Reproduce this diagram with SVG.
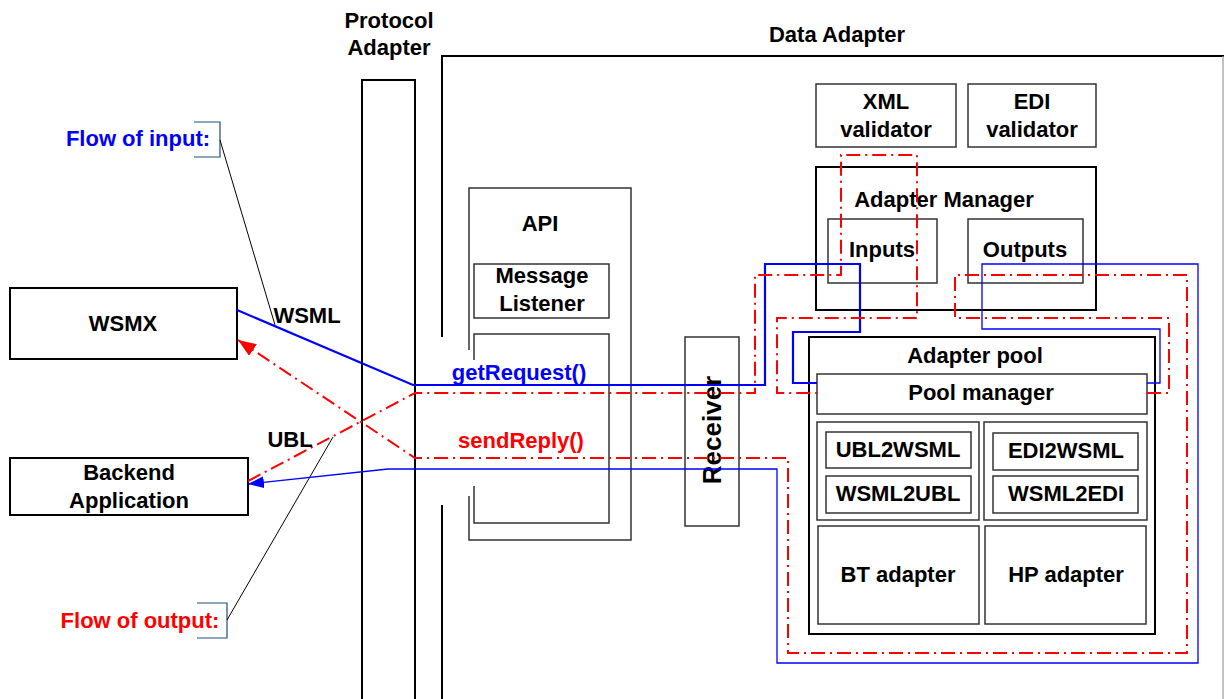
<svg xmlns="http://www.w3.org/2000/svg" width="1224" height="699" viewBox="0 0 1224 699">
<style>
text{font-family:"Liberation Sans",Arial,sans-serif;font-weight:bold;font-size:22px;fill:#000;text-anchor:middle}
.box{fill:none;stroke:#000;stroke-width:2}
.ibox{fill:none;stroke:#333;stroke-width:1.5}
.ln{fill:none;stroke:#000;stroke-width:2}
.thin{fill:none;stroke:#333;stroke-width:1.5}
.lead{fill:none;stroke:#000;stroke-width:1}
.brk{fill:none;stroke:#1F4E79;stroke-width:1.2}
.bin{fill:none;stroke:#0000FF;stroke-width:2.2}
.bout{fill:none;stroke:#0000FF;stroke-width:1.3}
.red{fill:none;stroke:#FF0000;stroke-width:2;stroke-dasharray:14 5 2 5}
</style>
<defs>
<marker id="ahRed" viewBox="0 0 18 14" refX="18" refY="7" markerWidth="18" markerHeight="14" markerUnits="userSpaceOnUse" orient="auto"><path d="M0,0 L18,7 L0,14 z" fill="#FF0000"/></marker>
<marker id="ahBlue" viewBox="0 0 16 12" refX="16" refY="6" markerWidth="16" markerHeight="12" markerUnits="userSpaceOnUse" orient="auto"><path d="M0,0 L16,6 L0,12 z" fill="#0000FF"/></marker>
</defs>
<rect width="1224" height="699" fill="#fff"/>

<g id="protocol-adapter">
<text x="389" y="28">Protocol</text>
<text x="389" y="55">Adapter</text>
<rect class="box" x="362" y="80" width="53" height="640"/>
</g>

<g id="data-adapter">
<text x="837" y="42">Data Adapter</text>
<path class="ln" d="M442,337 V56 H1226" stroke-width="2.5"/>
<path class="ln" d="M442,505 V700"/>
<path d="M1223,56 V699" stroke="#999" stroke-width="1.2" fill="none"/>
</g>

<g id="wsmx">
<rect class="box" x="10" y="288" width="227" height="71"/>
<text x="123" y="331">WSMX</text>
</g>

<g id="backend">
<rect class="box" x="10" y="458" width="238" height="57"/>
<text x="129" y="480">Backend</text>
<text x="129" y="508">Application</text>
</g>

<g id="api">
<path class="thin" d="M469,350 V188 H631 V540 H469 V496"/>
<text x="540" y="231">API</text>
</g>

<g id="message-listener">
<rect class="ibox" x="474" y="264" width="135" height="54"/>
<text x="542" y="283">Message</text>
<text x="542" y="311">Listener</text>
</g>

<g id="api-inner">
<path class="thin" d="M474,360 V334 H609 V523 H474 V486"/>
</g>

<g id="receiver">
<rect class="thin" x="685" y="337" width="54" height="189"/>
<text transform="translate(721,430) rotate(-90)" font-size="26" style="font-size:26px">Receiver</text>
</g>

<g id="xml-validator">
<rect class="ibox" x="816" y="84" width="140" height="63"/>
<text x="886" y="109">XML</text>
<text x="886" y="137">validator</text>
</g>

<g id="edi-validator">
<rect class="ibox" x="968" y="84" width="128" height="63"/>
<text x="1032" y="109">EDI</text>
<text x="1032" y="137">validator</text>
</g>

<g id="adapter-manager">
<rect class="box" x="816" y="167" width="280" height="143"/>
<text x="944" y="207">Adapter Manager</text>
</g>

<g id="inputs">
<rect class="ibox" x="828" y="219" width="109" height="64"/>
<text x="882" y="257">Inputs</text>
</g>

<g id="outputs">
<rect class="ibox" x="968" y="219" width="115" height="64"/>
<text x="1025" y="257">Outputs</text>
</g>

<g id="adapter-pool">
<rect class="box" x="809" y="337" width="346" height="297"/>
<text x="975" y="363">Adapter pool</text>
</g>

<g id="pool-manager">
<rect class="ibox" x="817" y="374" width="330" height="40"/>
<text x="981" y="400">Pool manager</text>
</g>

<g id="ubl-group">
<rect class="ibox" x="817" y="422" width="162" height="98"/>
</g>
<g id="ubl2wsml">
<rect class="ibox" x="826" y="432" width="145" height="36"/>
<text x="898" y="457">UBL2WSML</text>
</g>
<g id="wsml2ubl">
<rect class="ibox" x="826" y="476" width="145" height="37"/>
<text x="898" y="501">WSML2UBL</text>
</g>

<g id="edi-group">
<rect class="ibox" x="984" y="422" width="163" height="98"/>
</g>
<g id="edi2wsml">
<rect class="ibox" x="993" y="433" width="145" height="37"/>
<text x="1066" y="458">EDI2WSML</text>
</g>
<g id="wsml2edi">
<rect class="ibox" x="993" y="476" width="145" height="37"/>
<text x="1066" y="501">WSML2EDI</text>
</g>

<g id="bt-adapter">
<rect class="ibox" x="818" y="526" width="161" height="98"/>
<text x="898" y="582">BT adapter</text>
</g>
<g id="hp-adapter">
<rect class="ibox" x="985" y="526" width="161" height="98"/>
<text x="1066" y="582">HP adapter</text>
</g>

<g id="flow-input-label">
<text x="138" y="146" style="fill:#0000FF">Flow of input:</text>
<path class="brk" d="M194,122 H220 V157 H194"/>
</g>

<g id="flow-output-label">
<text x="140" y="628" style="fill:#FF0000">Flow of output:</text>
<path class="brk" d="M197,603 H227 V638 H197"/>
</g>

<g id="connectors">
<path class="lead" d="M220,140 L275,325"/>
<path class="lead" d="M227,620 L333,437"/>
<path class="bin" d="M237,310 L413,385 H765 V264 H860 V332 H793 V383 H817"/>
<path class="bout" d="M1147,383 H1160 V329 H982 V264 H1198 V663 H777 V469 H388 L248,484" marker-end="url(#ahBlue)"/>
<path class="red" d="M248,481 L415,393 H755 V275 H841 V155 H917 V318 H777 V393 H817"/>
<path class="red" d="M1147,393 H1169 V318 H955 V275 H1187 V653 H788 V458 H415 L238,340" marker-end="url(#ahRed)"/>
<text x="307" y="323">WSML</text>
<text x="290" y="447">UBL</text>
<text x="519" y="380" style="fill:#0000FF">getRequest()</text>
<text x="521" y="448" style="fill:#FF0000">sendReply()</text>
</g>
</svg>
